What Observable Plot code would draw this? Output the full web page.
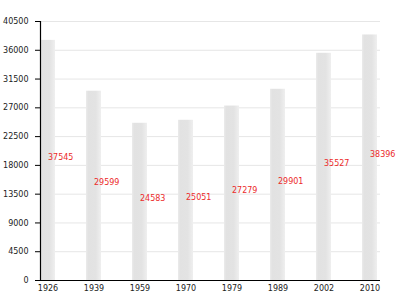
<!DOCTYPE html>
<html>
<head>
<meta charset="utf-8">
<script src="https://cdn.jsdelivr.net/npm/d3@7"></script>
<script src="https://cdn.jsdelivr.net/npm/@observablehq/plot@0.6"></script>
<style>
  body { margin: 0; background: #fff; }
</style>
</head>
<body>
<div id="chart"></div>
<script>
const years = ["1926", "1939", "1959", "1970", "1979", "1989", "2002", "2010"];
const values = [37545, 29599, 24583, 25051, 27279, 29901, 35527, 38396];
const yTicks = [0, 4500, 9000, 13500, 18000, 22500, 27000, 31500, 36000, 40500];

const data = years.map((y, i) => ({year: y, value: values[i]}));

const chart = Plot.plot({
  width: 420,
  height: 300,
  marginLeft: 40,
  marginRight: 40,
  marginTop: 21,
  marginBottom: 20,
  style: {fontFamily: "DejaVu Sans", fontSize: "8px", color: "#222", background: "#fff"},
  x: {domain: years, paddingInner: 0.68, paddingOuter: 0, align: 0, label: null},
  y: {domain: [0, 40500], label: null},
  marks: [
    Plot.ruleY(yTicks, {stroke: "#e6e6e6", strokeWidth: 1}),
    Plot.barY(data, {x: "year", y: "value", fill: "url(#barGrad)"}),
    Plot.text(data, {
      x: "year",
      y: d => d.value / 2,
      text: d => String(d.value),
      textAnchor: "start",
      dx: 0,
      dy: -3,
      fill: "#ec2a2a",
      fontSize: 8
    }),
    Plot.axisY({ticks: yTicks, tickSize: 5, tickPadding: 7, tickFormat: d => String(d), stroke: "#000", label: null}),
    Plot.axisX({tickSize: 0, tickPadding: 5, label: null}),
    Plot.ruleY([0], {stroke: "#000", strokeWidth: 1.2}),
    Plot.frame({anchor: "left", stroke: "#000", strokeWidth: 1.2})
  ]
});

const ns = "http://www.w3.org/2000/svg";
const defs = document.createElementNS(ns, "defs");
const grad = document.createElementNS(ns, "linearGradient");
grad.setAttribute("id", "barGrad");
grad.setAttribute("x1", "0"); grad.setAttribute("x2", "1");
grad.setAttribute("y1", "0"); grad.setAttribute("y2", "0");
[["0%", "#ebebeb"], ["15%", "#e2e2e2"], ["65%", "#e3e3e3"], ["100%", "#efefef"]].forEach(([o, c]) => {
  const s = document.createElementNS(ns, "stop");
  s.setAttribute("offset", o);
  s.setAttribute("stop-color", c);
  grad.appendChild(s);
});
defs.appendChild(grad);
chart.insertBefore(defs, chart.firstChild);

document.getElementById("chart").appendChild(chart);
</script>
</body>
</html>
